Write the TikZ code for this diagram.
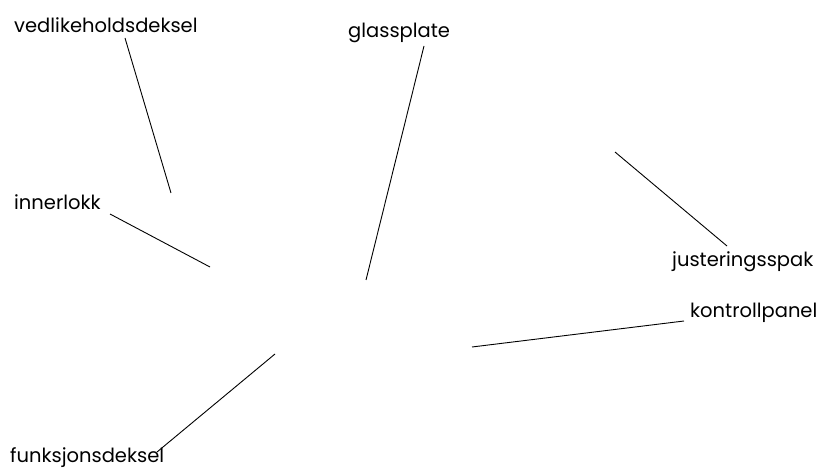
\documentclass[tikz,border=0pt]{standalone}
\usepackage{fontspec}
\setmainfont{Poppins}
\usepackage{tikz}
\usetikzlibrary{calc}
\tikzset{
  lbl/.style={anchor=base west,inner sep=0pt,font=\fontsize{19.5}{22}\selectfont},
  leader/.style={draw,line width=0.9pt},
}

\begin{document}
\begin{tikzpicture}[x=1pt,y=-1pt]
  \useasboundingbox (0,0) rectangle (831,473);
  % labels
  \node[lbl] (ved) at (14,33) {vedlikeholdsdeksel};
  \node[lbl] (inn) at (14,210) {innerlokk};
  \node[lbl] (fun) at (10,462) {funksjonsdeksel};
  \node[lbl] (gla) at (348,38) {glassplate};
  \node[lbl] (jus) at (672,267) {justeringsspak};
  \node[lbl] (kon) at (690,318) {kontrollpanel};
  % free ends of the leaders
  \coordinate (vedEnd) at (171,193);
  \coordinate (innEnd) at (210,267);
  \coordinate (funEnd) at (275,354);
  \coordinate (glaEnd) at (366,280);
  \coordinate (jusEnd) at (615,152);
  \coordinate (konEnd) at (472,347);
  \draw[leader] ([shift={(111,5)}]ved.base west) -- (vedEnd);
  \draw[leader] ([shift={(96,4)}]inn.base west) -- (innEnd);
  \draw[leader] ([shift={(147,-10)}]fun.base west) -- (funEnd);
  \draw[leader] ([shift={(76,8)}]gla.base west) -- (glaEnd);
  \draw[leader] ([shift={(55,-21)}]jus.base west) -- (jusEnd);
  \draw[leader] ([shift={(-6,3)}]kon.base west) -- (konEnd);
\end{tikzpicture}
\end{document}
